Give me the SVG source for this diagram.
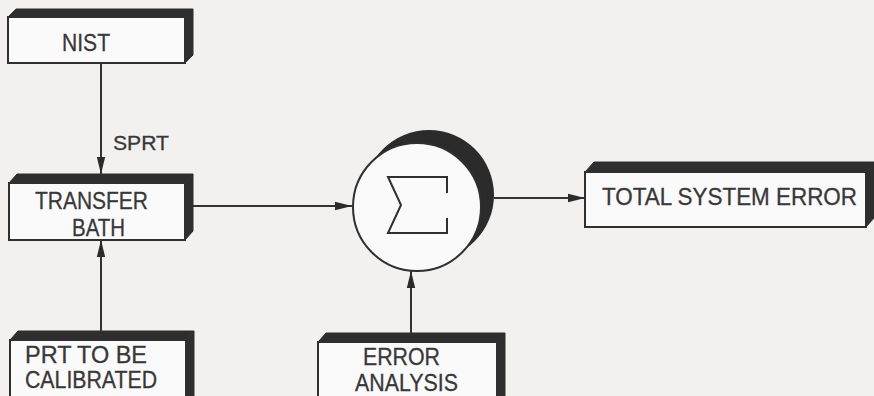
<svg xmlns="http://www.w3.org/2000/svg" width="874" height="396" viewBox="0 0 874 396">
  <style>
    .face { fill: #fbfafa; stroke: #2f2f2f; stroke-width: 2; }
    .band { fill: #2e2e2e; stroke: #2e2e2e; stroke-width: 1; stroke-linejoin: round; }
    .lbl { font-family: "Liberation Sans", Arial, sans-serif; font-size: 24px; fill: #383838; stroke: #383838; stroke-width: 0.3; text-anchor: start; }
    .small { font-size: 20px; }
    .wire { stroke: #333; stroke-width: 2; fill: none; }
  </style>
  <defs>
    <marker id="arrow" markerUnits="userSpaceOnUse" markerWidth="18" markerHeight="10" refX="17" refY="5" orient="auto">
      <path d="M0,0.8 L17,5 L0,9.2 Z" fill="#2b2b2b"/>
    </marker>
  </defs>

  <rect width="874" height="396" fill="#f3f1ef"/>

  <!-- NIST -->
  <g id="nist">
    <polygon class="band" points="8,17 16,9 193,9 185,17"/>
    <polygon class="band" points="185,17 193,9 193,55 185,63"/>
    <rect class="face" x="8" y="17" width="177" height="46"/>
    <text class="lbl" x="62" y="51" textLength="48" lengthAdjust="spacingAndGlyphs">NIST</text>
  </g>

  <!-- Transfer bath -->
  <g id="transfer-bath">
    <polygon class="band" points="9,183 17,174 193,174 185,183"/>
    <polygon class="band" points="185,183 193,174 193,231 185,240"/>
    <rect class="face" x="9" y="183" width="176" height="57"/>
    <text class="lbl" x="35" y="209" textLength="113" lengthAdjust="spacingAndGlyphs">TRANSFER</text>
    <text class="lbl" x="72" y="236" textLength="53" lengthAdjust="spacingAndGlyphs">BATH</text>
  </g>

  <!-- PRT to be calibrated -->
  <g id="prt">
    <polygon class="band" points="10,340 18,331 194,331 186,340"/>
    <polygon class="band" points="186,340 194,331 194,396 186,396"/>
    <rect class="face" x="10" y="340" width="176" height="60"/>
    <text class="lbl" x="25" y="363" textLength="122" lengthAdjust="spacingAndGlyphs">PRT TO BE</text>
    <text class="lbl" x="25" y="388" textLength="132" lengthAdjust="spacingAndGlyphs">CALIBRATED</text>
  </g>

  <!-- Summing junction -->
  <g id="sum">
    <circle cx="429" cy="195" r="65" fill="#2b2b2b"/>
    <circle cx="417" cy="207" r="64" fill="#fbfafa" stroke="#2f2f2f" stroke-width="2"/>
    <path d="M447,193 V177 H388 L401,205 L388,233 H447 V218" fill="none" stroke="#2f2f2f" stroke-width="2" stroke-linejoin="miter"/>
  </g>

  <!-- Error analysis -->
  <g id="error-analysis">
    <polygon class="band" points="318,342 326,333 505,333 497,342"/>
    <polygon class="band" points="497,342 505,333 505,396 497,396"/>
    <rect class="face" x="318" y="342" width="179" height="60"/>
    <text class="lbl" x="363" y="365" textLength="77" lengthAdjust="spacingAndGlyphs">ERROR</text>
    <text class="lbl" x="355" y="391" textLength="103" lengthAdjust="spacingAndGlyphs">ANALYSIS</text>
  </g>

  <!-- Total system error -->
  <g id="total-error">
    <polygon class="band" points="585,172 594,162 874,162 866,172"/>
    <polygon class="band" points="866,172 874,162 874,218 866,227"/>
    <rect class="face" x="585" y="172" width="281" height="55"/>
    <text class="lbl" x="602" y="205" textLength="255" lengthAdjust="spacingAndGlyphs">TOTAL  SYSTEM  ERROR</text>
  </g>

  <!-- Connectors -->
  <g id="connectors">
    <line class="wire" x1="101" y1="63" x2="101" y2="174" marker-end="url(#arrow)"/>
    <text class="lbl small" x="113" y="150" textLength="56" lengthAdjust="spacingAndGlyphs">SPRT</text>
    <line class="wire" x1="101" y1="331" x2="101" y2="240" marker-end="url(#arrow)"/>
    <line class="wire" x1="193" y1="206" x2="352" y2="206" marker-end="url(#arrow)"/>
    <line class="wire" x1="411" y1="333" x2="411" y2="271" marker-end="url(#arrow)"/>
    <line class="wire" x1="494" y1="198" x2="585" y2="198" marker-end="url(#arrow)"/>
  </g>
</svg>
